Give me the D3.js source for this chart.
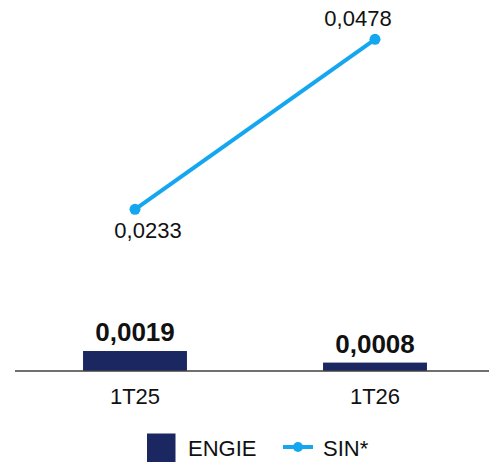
<!DOCTYPE html>
<html>
<head>
<meta charset="utf-8">
<script src="https://cdn.jsdelivr.net/npm/d3@7"></script>
<style>
  html, body { margin: 0; padding: 0; background: #ffffff; }
  svg { display: block; font-family: "Liberation Sans", Arial, sans-serif; }
</style>
</head>
<body>
<svg id="chart" width="489" height="464"></svg>
<script>
const categories = ["1T25", "1T26"];
const engieValues = [0.0019, 0.0008];
const sinValues = [0.0233, 0.0478];
const engieLabels = ["0,0019", "0,0008"];
const sinLabels = ["0,0233", "0,0478"];
const seriesNames = ["ENGIE", "SIN*"];

const barColor = "#1b2761";
const lineColor = "#14a7f0";

const svg = d3.select("#chart");
const baseY = 371;

const x = d3.scaleBand()
  .domain(categories)
  .range([15, 495])
  .paddingInner(0.567)
  .paddingOuter(0.2835);

const yBar = d3.scaleLinear().domain([0, 0.033]).range([baseY, 24]);
const yLine = d3.scaleLinear().domain([0, 0.05]).range([baseY, 24]);

// bars
svg.append("g").selectAll("rect")
  .data(engieValues)
  .join("rect")
  .attr("x", (d, i) => x(categories[i]))
  .attr("width", x.bandwidth())
  .attr("y", d => yBar(d))
  .attr("height", d => baseY - yBar(d))
  .attr("fill", barColor);

// bar labels
svg.append("g").selectAll("text")
  .data(engieValues)
  .join("text")
  .attr("x", (d, i) => x(categories[i]) + x.bandwidth() / 2)
  .attr("y", d => yBar(d) - 10)
  .attr("text-anchor", "middle")
  .attr("font-size", 26)
  .attr("font-weight", "bold")
  .attr("fill", "#111")
  .text((d, i) => engieLabels[i]);

// axis
const xAxis = d3.axisBottom(x).tickSize(0).tickPadding(17);
const gx = svg.append("g")
  .attr("transform", `translate(0,${baseY})`)
  .call(xAxis);
gx.select(".domain").remove();
gx.append("line")
  .attr("x1", 15).attr("x2", 489)
  .attr("y1", 0).attr("y2", 0)
  .attr("stroke", "#404040")
  .attr("stroke-width", 1.5);
gx.selectAll(".tick text")
  .attr("font-size", 22)
  .attr("fill", "#111")
  .attr("font-family", "Liberation Sans, Arial, sans-serif");

// line
const cx = (d, i) => x(categories[i]) + x.bandwidth() / 2;
const line = d3.line()
  .x((d, i) => cx(d, i))
  .y(d => yLine(d));
svg.append("path")
  .datum(sinValues)
  .attr("d", line)
  .attr("fill", "none")
  .attr("stroke", lineColor)
  .attr("stroke-width", 4);
svg.append("g").selectAll("circle")
  .data(sinValues)
  .join("circle")
  .attr("cx", cx)
  .attr("cy", d => yLine(d))
  .attr("r", 5.5)
  .attr("fill", lineColor);

// line labels
const lineLabelDx = [13, -17];
const lineLabelDy = [29, -13];
svg.append("g").selectAll("text")
  .data(sinValues)
  .join("text")
  .attr("x", (d, i) => cx(d, i) + lineLabelDx[i])
  .attr("y", (d, i) => yLine(d) + lineLabelDy[i])
  .attr("text-anchor", "middle")
  .attr("font-size", 22)
  .attr("fill", "#111")
  .text((d, i) => sinLabels[i]);

// legend
const lg = svg.append("g");
lg.append("rect")
  .attr("x", 147).attr("y", 433.5)
  .attr("width", 28.5).attr("height", 28.5)
  .attr("fill", barColor);
lg.append("text")
  .attr("x", 188).attr("y", 456)
  .attr("font-size", 22)
  .attr("fill", "#111")
  .text(seriesNames[0]);
lg.append("line")
  .attr("x1", 283).attr("x2", 313)
  .attr("y1", 447).attr("y2", 447)
  .attr("stroke", lineColor)
  .attr("stroke-width", 4);
lg.append("circle")
  .attr("cx", 298).attr("cy", 447).attr("r", 5)
  .attr("fill", lineColor);
lg.append("text")
  .attr("x", 323).attr("y", 456)
  .attr("font-size", 22)
  .attr("fill", "#111")
  .text(seriesNames[1]);
</script>
</body>
</html>
